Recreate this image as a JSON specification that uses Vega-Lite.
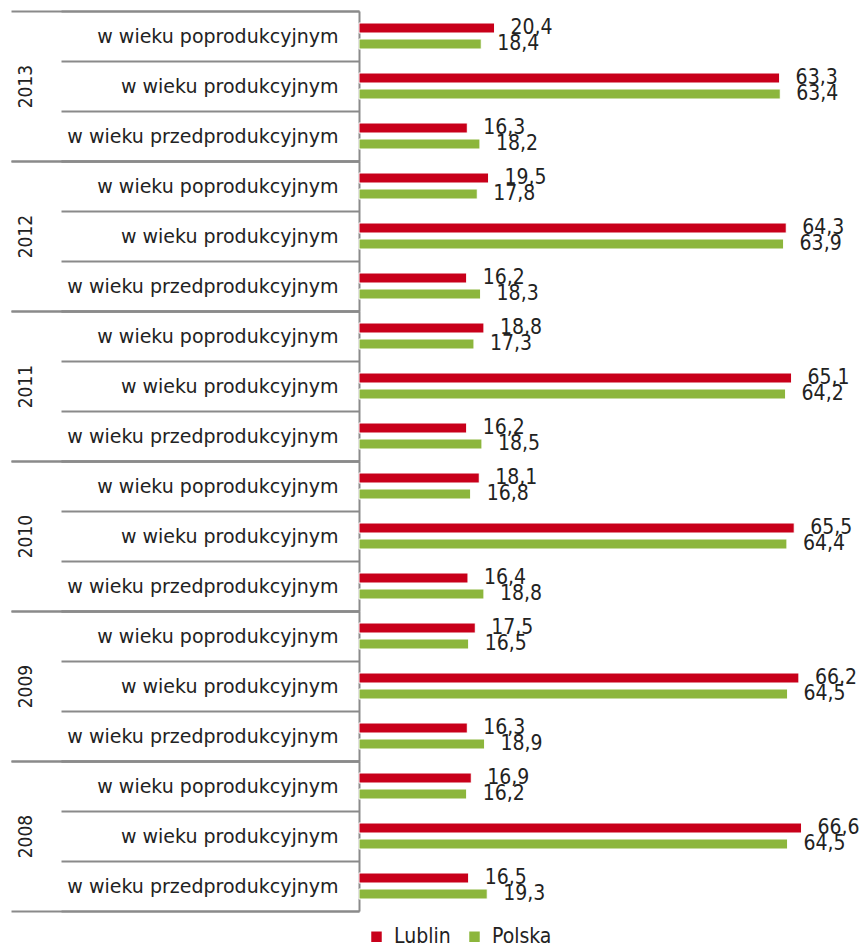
{
  "$schema": "https://vega.github.io/schema/vega-lite/v6.json",
  "padding": {"left": 10, "top": 2, "right": 0, "bottom": 0},
  "background": "white",
  "config": {
    "locale": {"number": {"decimal": ",", "thousands": " ", "grouping": [3], "currency": ["", " zł"]}},
    "view": {"stroke": null},
    "font": "DejaVu Sans Condensed"
  },
  "data": {"values": [
    {"year": "2013", "cat": "w wieku poprodukcyjnym", "series": "Lublin", "value": 20.4},
    {"year": "2013", "cat": "w wieku poprodukcyjnym", "series": "Polska", "value": 18.4},
    {"year": "2013", "cat": "w wieku produkcyjnym", "series": "Lublin", "value": 63.3},
    {"year": "2013", "cat": "w wieku produkcyjnym", "series": "Polska", "value": 63.4},
    {"year": "2013", "cat": "w wieku przedprodukcyjnym", "series": "Lublin", "value": 16.3},
    {"year": "2013", "cat": "w wieku przedprodukcyjnym", "series": "Polska", "value": 18.2},
    {"year": "2012", "cat": "w wieku poprodukcyjnym", "series": "Lublin", "value": 19.5},
    {"year": "2012", "cat": "w wieku poprodukcyjnym", "series": "Polska", "value": 17.8},
    {"year": "2012", "cat": "w wieku produkcyjnym", "series": "Lublin", "value": 64.3},
    {"year": "2012", "cat": "w wieku produkcyjnym", "series": "Polska", "value": 63.9},
    {"year": "2012", "cat": "w wieku przedprodukcyjnym", "series": "Lublin", "value": 16.2},
    {"year": "2012", "cat": "w wieku przedprodukcyjnym", "series": "Polska", "value": 18.3},
    {"year": "2011", "cat": "w wieku poprodukcyjnym", "series": "Lublin", "value": 18.8},
    {"year": "2011", "cat": "w wieku poprodukcyjnym", "series": "Polska", "value": 17.3},
    {"year": "2011", "cat": "w wieku produkcyjnym", "series": "Lublin", "value": 65.1},
    {"year": "2011", "cat": "w wieku produkcyjnym", "series": "Polska", "value": 64.2},
    {"year": "2011", "cat": "w wieku przedprodukcyjnym", "series": "Lublin", "value": 16.2},
    {"year": "2011", "cat": "w wieku przedprodukcyjnym", "series": "Polska", "value": 18.5},
    {"year": "2010", "cat": "w wieku poprodukcyjnym", "series": "Lublin", "value": 18.1},
    {"year": "2010", "cat": "w wieku poprodukcyjnym", "series": "Polska", "value": 16.8},
    {"year": "2010", "cat": "w wieku produkcyjnym", "series": "Lublin", "value": 65.5},
    {"year": "2010", "cat": "w wieku produkcyjnym", "series": "Polska", "value": 64.4},
    {"year": "2010", "cat": "w wieku przedprodukcyjnym", "series": "Lublin", "value": 16.4},
    {"year": "2010", "cat": "w wieku przedprodukcyjnym", "series": "Polska", "value": 18.8},
    {"year": "2009", "cat": "w wieku poprodukcyjnym", "series": "Lublin", "value": 17.5},
    {"year": "2009", "cat": "w wieku poprodukcyjnym", "series": "Polska", "value": 16.5},
    {"year": "2009", "cat": "w wieku produkcyjnym", "series": "Lublin", "value": 66.2},
    {"year": "2009", "cat": "w wieku produkcyjnym", "series": "Polska", "value": 64.5},
    {"year": "2009", "cat": "w wieku przedprodukcyjnym", "series": "Lublin", "value": 16.3},
    {"year": "2009", "cat": "w wieku przedprodukcyjnym", "series": "Polska", "value": 18.9},
    {"year": "2008", "cat": "w wieku poprodukcyjnym", "series": "Lublin", "value": 16.9},
    {"year": "2008", "cat": "w wieku poprodukcyjnym", "series": "Polska", "value": 16.2},
    {"year": "2008", "cat": "w wieku produkcyjnym", "series": "Lublin", "value": 66.6},
    {"year": "2008", "cat": "w wieku produkcyjnym", "series": "Polska", "value": 64.5},
    {"year": "2008", "cat": "w wieku przedprodukcyjnym", "series": "Lublin", "value": 16.5},
    {"year": "2008", "cat": "w wieku przedprodukcyjnym", "series": "Polska", "value": 19.3}
  ]},
  "facet": {"row": {"field": "year", "type": "nominal", "sort": "descending", "header": {"labels": false, "title": null}, "title": null}},
  "spacing": 0,
  "bounds": "flush",
  "resolve": {"scale": {"y": "independent"}},
  "spec": {
    "width": 505,
    "height": 150,
    "layer": [
      {
        "encoding": {
          "y": {"field": "cat", "type": "nominal",
            "sort": ["w wieku poprodukcyjnym", "w wieku produkcyjnym", "w wieku przedprodukcyjnym"],
            "scale": {"paddingInner": 0, "paddingOuter": 0},
            "axis": {"title": null, "orient": "left", "tickBand": "extent", "tickSize": 298, "tickWidth": 2, "tickColor": "#8a8a8a", "domainColor": "#8a8a8a", "domainWidth": 2, "labelPadding": -277, "labelFontSize": 19, "labelColor": "#222222", "labelLimit": 400, "labelFont": "DejaVu Sans"}},
          "x": {"field": "value", "type": "quantitative", "scale": {"domain": [0, 76], "nice": false}, "axis": null}
        },
        "layer": [
          {
            "transform": [{"filter": "datum.series === 'Lublin'"}],
            "mark": {"type": "bar", "height": 10, "yOffset": -8, "stroke": "white", "strokeWidth": 1},
            "encoding": {
              "color": {"field": "series", "type": "nominal",
                "scale": {"domain": ["Lublin", "Polska"], "range": ["#c8001a", "#8cb63c"]},
                "legend": {"title": null, "orient": "none", "legendX": 7, "legendY": 915, "direction": "horizontal", "symbolType": "square", "symbolSize": 110, "symbolStrokeWidth": 0, "symbolOffset": 0, "labelOffset": 7, "labelFontSize": 21, "labelColor": "#222222", "labelFont": "DejaVu Sans Condensed", "columnPadding": 13}}
            }
          },
          {
            "transform": [{"filter": "datum.series === 'Polska'"}],
            "mark": {"type": "bar", "height": 10, "yOffset": 8, "stroke": "white", "strokeWidth": 1},
            "encoding": {
              "color": {"field": "series", "type": "nominal"}
            }
          },
          {
            "transform": [{"filter": "datum.series === 'Lublin'"}],
            "mark": {"type": "text", "align": "left", "baseline": "middle", "dx": 16, "dy": -8, "fontSize": 21, "color": "#222222", "font": "DejaVu Sans Condensed"},
            "encoding": {
              "text": {"field": "value", "type": "quantitative", "format": ".1f"}
            }
          },
          {
            "transform": [{"filter": "datum.series === 'Polska'"}],
            "mark": {"type": "text", "align": "left", "baseline": "middle", "dx": 16, "dy": 8, "fontSize": 21, "color": "#222222", "font": "DejaVu Sans Condensed"},
            "encoding": {
              "text": {"field": "value", "type": "quantitative", "format": ".1f"}
            }
          }
        ]
      },
      {
        "mark": {"type": "point", "opacity": 0},
        "encoding": {
          "y": {"field": "year", "type": "nominal", "scale": {"paddingInner": 0, "paddingOuter": 0},
            "axis": {"title": null, "orient": "left", "tickBand": "extent", "tickSize": 348, "tickWidth": 2, "tickColor": "#8a8a8a", "domain": false, "labelAngle": -90, "labelAlign": "center", "labelBaseline": "middle", "labelPadding": -14, "labelFontSize": 19, "labelColor": "#222222", "labelFont": "DejaVu Sans Condensed"}}
        }
      }
    ],
    "resolve": {"scale": {"y": "independent"}}
  }
}
